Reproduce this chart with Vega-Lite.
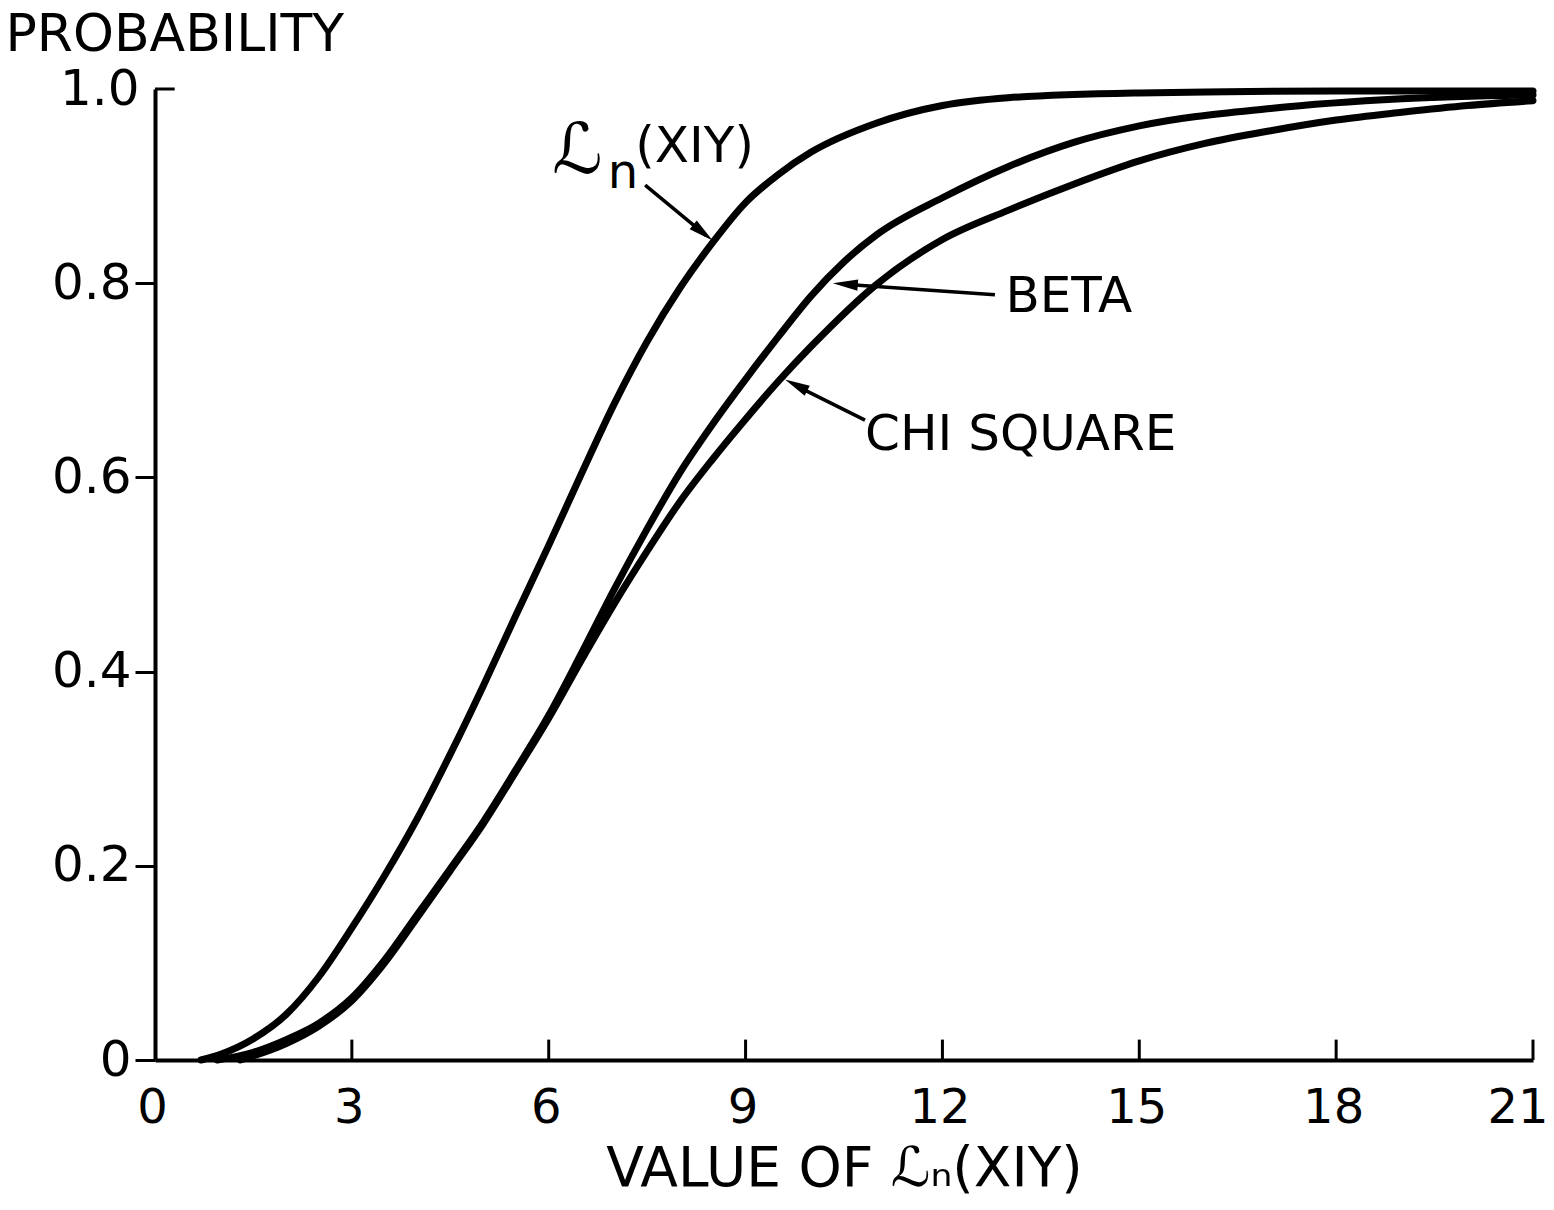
{
  "$schema": "https://vega.github.io/schema/vega-lite/v6.json",
  "width": 1378,
  "height": 971,
  "autosize": "none",
  "padding": {"left": 155, "top": 89, "right": 21, "bottom": 150},
  "background": "white",
  "config": {
    "view": {"stroke": null},
    "font": "DejaVu Sans",
    "axis": {"grid": false, "domainColor": "black", "tickColor": "black", "labelColor": "black", "titleColor": "black", "labelFont": "DejaVu Sans", "titleFont": "DejaVu Sans", "labelFontWeight": "normal", "titleFontWeight": "normal"}
  },
  "datasets": {
    "curves": [
      {"series": "Ln", "x": 0.7, "p": 0.0},
      {"series": "Ln", "x": 1.0, "p": 0.006},
      {"series": "Ln", "x": 1.5, "p": 0.022},
      {"series": "Ln", "x": 2.0, "p": 0.047},
      {"series": "Ln", "x": 2.5, "p": 0.086},
      {"series": "Ln", "x": 3.0, "p": 0.136},
      {"series": "Ln", "x": 3.5, "p": 0.19},
      {"series": "Ln", "x": 4.0, "p": 0.249},
      {"series": "Ln", "x": 4.5, "p": 0.315},
      {"series": "Ln", "x": 5.0, "p": 0.385},
      {"series": "Ln", "x": 5.5, "p": 0.458},
      {"series": "Ln", "x": 6.0, "p": 0.53},
      {"series": "Ln", "x": 6.5, "p": 0.604},
      {"series": "Ln", "x": 7.0, "p": 0.676},
      {"series": "Ln", "x": 7.5, "p": 0.74},
      {"series": "Ln", "x": 8.0, "p": 0.795},
      {"series": "Ln", "x": 8.5, "p": 0.842},
      {"series": "Ln", "x": 9.0, "p": 0.883},
      {"series": "Ln", "x": 9.5, "p": 0.912},
      {"series": "Ln", "x": 10.0, "p": 0.935},
      {"series": "Ln", "x": 11.0, "p": 0.965},
      {"series": "Ln", "x": 12.0, "p": 0.983},
      {"series": "Ln", "x": 13.0, "p": 0.991},
      {"series": "Ln", "x": 15.0, "p": 0.996},
      {"series": "Ln", "x": 18.0, "p": 0.998},
      {"series": "Ln", "x": 21.0, "p": 0.998},
      {"series": "Beta", "x": 0.95, "p": 0.0},
      {"series": "Beta", "x": 1.5, "p": 0.008},
      {"series": "Beta", "x": 2.0, "p": 0.021},
      {"series": "Beta", "x": 2.5, "p": 0.038},
      {"series": "Beta", "x": 3.0, "p": 0.064},
      {"series": "Beta", "x": 3.5, "p": 0.103},
      {"series": "Beta", "x": 4.0, "p": 0.15},
      {"series": "Beta", "x": 4.5, "p": 0.197},
      {"series": "Beta", "x": 5.0, "p": 0.245},
      {"series": "Beta", "x": 5.5, "p": 0.299},
      {"series": "Beta", "x": 6.0, "p": 0.355},
      {"series": "Beta", "x": 6.5, "p": 0.419},
      {"series": "Beta", "x": 7.0, "p": 0.485},
      {"series": "Beta", "x": 7.5, "p": 0.547},
      {"series": "Beta", "x": 8.0, "p": 0.605},
      {"series": "Beta", "x": 8.5, "p": 0.655},
      {"series": "Beta", "x": 9.0, "p": 0.701},
      {"series": "Beta", "x": 9.5, "p": 0.745},
      {"series": "Beta", "x": 10.0, "p": 0.787},
      {"series": "Beta", "x": 10.5, "p": 0.822},
      {"series": "Beta", "x": 11.0, "p": 0.85},
      {"series": "Beta", "x": 12.0, "p": 0.888},
      {"series": "Beta", "x": 13.0, "p": 0.92},
      {"series": "Beta", "x": 14.0, "p": 0.945},
      {"series": "Beta", "x": 15.0, "p": 0.962},
      {"series": "Beta", "x": 17.0, "p": 0.98},
      {"series": "Beta", "x": 19.0, "p": 0.99},
      {"series": "Beta", "x": 21.0, "p": 0.994},
      {"series": "Chi", "x": 1.3, "p": 0.0},
      {"series": "Chi", "x": 2.0, "p": 0.017},
      {"series": "Chi", "x": 2.5, "p": 0.035},
      {"series": "Chi", "x": 3.0, "p": 0.061},
      {"series": "Chi", "x": 3.5, "p": 0.1},
      {"series": "Chi", "x": 4.0, "p": 0.147},
      {"series": "Chi", "x": 4.5, "p": 0.195},
      {"series": "Chi", "x": 5.0, "p": 0.243},
      {"series": "Chi", "x": 5.5, "p": 0.297},
      {"series": "Chi", "x": 6.0, "p": 0.352},
      {"series": "Chi", "x": 6.5, "p": 0.412},
      {"series": "Chi", "x": 7.0, "p": 0.47},
      {"series": "Chi", "x": 7.5, "p": 0.524},
      {"series": "Chi", "x": 8.0, "p": 0.575},
      {"series": "Chi", "x": 8.5, "p": 0.619},
      {"series": "Chi", "x": 9.0, "p": 0.66},
      {"series": "Chi", "x": 9.5, "p": 0.699},
      {"series": "Chi", "x": 10.0, "p": 0.735},
      {"series": "Chi", "x": 11.0, "p": 0.799},
      {"series": "Chi", "x": 12.0, "p": 0.845},
      {"series": "Chi", "x": 13.0, "p": 0.875},
      {"series": "Chi", "x": 14.0, "p": 0.902},
      {"series": "Chi", "x": 15.0, "p": 0.926},
      {"series": "Chi", "x": 16.0, "p": 0.944},
      {"series": "Chi", "x": 17.0, "p": 0.957},
      {"series": "Chi", "x": 18.0, "p": 0.968},
      {"series": "Chi", "x": 19.0, "p": 0.976},
      {"series": "Chi", "x": 20.0, "p": 0.983},
      {"series": "Chi", "x": 21.0, "p": 0.988}
    ],
    "ticks": [
      {"x": 3, "x2": 3, "p": 0, "p2": 0.021},
      {"x": 6, "x2": 6, "p": 0, "p2": 0.021},
      {"x": 9, "x2": 9, "p": 0, "p2": 0.021},
      {"x": 12, "x2": 12, "p": 0, "p2": 0.021},
      {"x": 15, "x2": 15, "p": 0, "p2": 0.021},
      {"x": 18, "x2": 18, "p": 0, "p2": 0.021},
      {"x": 21, "x2": 21, "p": 0, "p2": 0.021},
      {"x": 0, "x2": 0.3, "p": 1.0, "p2": 1.0}
    ],
    "arrows": [
      {"label": "Ln", "x": 7.47, "p": 0.901, "x2": 8.4, "p2": 0.849, "hx": 8.35, "hp": 0.852, "angle": 129},
      {"label": "BETA", "x": 12.8, "p": 0.788, "x2": 10.5, "p2": 0.799, "hx": 10.52, "hp": 0.799, "angle": 274},
      {"label": "CHI SQUARE", "x": 10.82, "p": 0.659, "x2": 9.75, "p2": 0.695, "hx": 9.77, "hp": 0.695, "angle": 297}
    ],
    "labels": [
      {"text": "BETA", "x": 12.96, "p": 0.786},
      {"text": "CHI SQUARE", "x": 10.82, "p": 0.644},
      {"text": "(XIY)", "x": 7.32, "p": 0.94}
    ],
    "script": [
      {"text": "ℒ", "x": 6.05, "p": 0.935}
    ],
    "subs": [
      {"text": "n", "x": 6.9, "p": 0.912}
    ]
  },
  "layer": [
    {
      "data": {"name": "curves"},
      "mark": {"type": "line", "color": "black", "strokeWidth": 7, "interpolate": "monotone", "strokeCap": "round"},
      "encoding": {
        "x": {"field": "x", "type": "quantitative", "scale": {"domain": [0, 21], "nice": false, "zero": false},
          "axis": {"values": [0, 3, 6, 9, 12, 15, 18, 21], "format": "d", "title": "VALUE OF ℒₙ(XIY)", "ticks": false, "domainWidth": 4, "labelFontSize": 48, "labelPadding": 24,
            "labelAlign": {"condition": {"test": "datum.value == 21", "value": "right"}, "value": "center"},
            "labelOffset": {"condition": {"test": "datum.value == 21", "value": 15}, "value": -3},
            "titleFontSize": 55, "titleBaseline": "alphabetic", "titleY": 125, "labelFlush": false}},
        "y": {"field": "p", "type": "quantitative", "scale": {"domain": [0, 1], "nice": false},
          "axis": {"values": [0, 0.2, 0.4, 0.6, 0.8, 1.0], "labelExpr": "datum.value == 0 ? '0' : format(datum.value, '.1f')", "title": "PROBABILITY", "titleAngle": 0, "titleAlign": "left", "titleBaseline": "alphabetic", "titleX": -150, "titleY": -39, "titleFontSize": 52,
            "tickSize": {"condition": {"test": "datum.value == 1", "value": 0}, "value": 20}, "tickWidth": 3, "domainWidth": 4, "labelFontSize": 50,
            "labelPadding": {"condition": {"test": "datum.value == 1", "value": 16}, "value": 4}, "labelFlush": false}},
        "detail": {"field": "series", "type": "nominal"}
      }
    },
    {
      "data": {"name": "ticks"},
      "mark": {"type": "rule", "color": "black", "strokeWidth": 3},
      "encoding": {
        "x": {"field": "x", "type": "quantitative"},
        "y": {"field": "p", "type": "quantitative"},
        "x2": {"field": "x2"},
        "y2": {"field": "p2"}
      }
    },
    {
      "data": {"name": "arrows"},
      "mark": {"type": "rule", "color": "black", "strokeWidth": 3.5},
      "encoding": {
        "x": {"field": "x", "type": "quantitative"},
        "y": {"field": "p", "type": "quantitative"},
        "x2": {"field": "x2"},
        "y2": {"field": "p2"}
      }
    },
    {
      "data": {"name": "arrows"},
      "mark": {"type": "point", "shape": "M0,-1L0.45,1L-0.45,1Z", "filled": true, "color": "black", "size": 625, "opacity": 1},
      "encoding": {
        "x": {"field": "hx", "type": "quantitative"},
        "y": {"field": "hp", "type": "quantitative"},
        "angle": {"field": "angle", "type": "quantitative", "scale": null}
      }
    },
    {
      "data": {"name": "labels"},
      "mark": {"type": "text", "align": "left", "baseline": "middle", "fontSize": 50, "font": "DejaVu Sans", "color": "black"},
      "encoding": {
        "x": {"field": "x", "type": "quantitative"},
        "y": {"field": "p", "type": "quantitative"},
        "text": {"field": "text", "type": "nominal"}
      }
    },
    {
      "data": {"name": "script"},
      "mark": {"type": "text", "align": "left", "baseline": "middle", "fontSize": 70, "font": "DejaVu Sans", "color": "black"},
      "encoding": {
        "x": {"field": "x", "type": "quantitative"},
        "y": {"field": "p", "type": "quantitative"},
        "text": {"field": "text", "type": "nominal"}
      }
    },
    {
      "data": {"name": "subs"},
      "mark": {"type": "text", "align": "left", "baseline": "middle", "fontSize": 48, "font": "DejaVu Sans", "color": "black"},
      "encoding": {
        "x": {"field": "x", "type": "quantitative"},
        "y": {"field": "p", "type": "quantitative"},
        "text": {"field": "text", "type": "nominal"}
      }
    }
  ]
}
